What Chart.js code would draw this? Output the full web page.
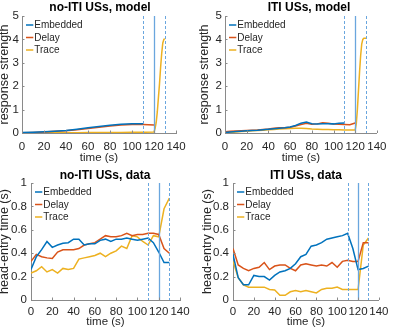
<!DOCTYPE html>
<html>
<head>
<meta charset="utf-8">
<script src="https://cdn.jsdelivr.net/npm/chart.js@4.4.1/dist/chart.umd.min.js"></script>
<style>
html,body{margin:0;padding:0;background:#fff;overflow:hidden;width:393px;height:333px;}
canvas{position:absolute;}
</style>
</head>
<body>
<canvas id="c1" width="196" height="166" style="left:0px;top:0px"></canvas>
<canvas id="c2" width="197" height="166" style="left:196px;top:0px"></canvas>
<canvas id="c3" width="196" height="167" style="left:0px;top:166px"></canvas>
<canvas id="c4" width="197" height="167" style="left:196px;top:166px"></canvas>
<script>
// ---------- data ----------
const seriesNames = ["Embedded", "Delay", "Trace"];
const xTicks = [0, 20, 40, 60, 80, 100, 120, 140];
const modelYTicks = [0, 1, 2, 3, 4, 5];
const dataYTicks = [0, 0.2, 0.4, 0.6, 0.8, 1];
const eventTimes = [110, 120, 130]; // dashed, solid, dashed

// Panel 1: no-ITI USs, model
const p1Time = [0,10,20,30,40,50,60,70,80,90,100,110,120,121,122,123,124,125,126,127,128,129,130];
const p1Embedded = [0.02,0.03,0.05,0.08,0.11,0.16,0.22,0.28,0.33,0.37,0.39,0.40];
const p1Delay = [0.01,0.02,0.04,0.07,0.10,0.14,0.19,0.25,0.30,0.34,0.36,0.36,0.34];
const p1Trace = [0,0,0.01,0.01,0.01,0.01,0.02,0.02,0.02,0.02,0.03,0.03,0.04,0.2,0.45,0.9,1.5,2.1,2.8,3.4,3.85,4.0,4.02];

// Panel 2: ITI USs, model
const p2Time = [0,5,10,15,20,25,30,35,40,45,50,55,60,65,70,75,80,85,90,95,100,105,110,115,120,121,122,123,124,125,126,127,128,129,130];
const p2Embedded = [0.02,0.04,0.06,0.08,0.10,0.11,0.12,0.14,0.16,0.18,0.20,0.22,0.26,0.32,0.42,0.47,0.40,0.38,0.40,0.40,0.39,0.42,0.43];
const p2Delay = [0.05,0.07,0.09,0.10,0.11,0.12,0.13,0.15,0.17,0.20,0.22,0.22,0.25,0.30,0.36,0.42,0.37,0.39,0.44,0.42,0.38,0.37,0.36,0.35,0.43];
const p2Trace = [0,0.02,0.04,0.06,0.08,0.10,0.11,0.12,0.14,0.15,0.17,0.18,0.19,0.20,0.20,0.19,0.17,0.16,0.15,0.15,0.14,0.14,0.13,0.13,0.13,0.4,1.0,1.8,2.6,3.3,3.8,4.0,4.05,4.05,4.05];

// Panel 3: no-ITI USs, data
const dataTime = [0,5,10,15,20,25,30,35,40,45,50,55,60,65,70,75,80,85,90,95,100,105,110,115,120,125,130];
const p3Embedded = [0.26,0.37,0.43,0.50,0.45,0.47,0.485,0.49,0.52,0.52,0.47,0.48,0.48,0.51,0.52,0.50,0.52,0.52,0.53,0.52,0.51,0.52,0.53,0.49,0.41,0.32,0.32];
const p3Delay = [0.33,0.39,0.37,0.36,0.355,0.41,0.43,0.43,0.43,0.44,0.47,0.48,0.49,0.52,0.55,0.54,0.54,0.55,0.57,0.55,0.56,0.56,0.57,0.57,0.56,0.44,0.40];
const p3Trace = [0.23,0.25,0.285,0.24,0.26,0.23,0.27,0.26,0.27,0.35,0.36,0.37,0.38,0.40,0.37,0.40,0.42,0.46,0.44,0.55,0.54,0.50,0.47,0.55,0.54,0.78,0.87];

// Panel 4: ITI USs, data
const p4Embedded = [0.39,0.19,0.13,0.13,0.21,0.20,0.20,0.17,0.21,0.24,0.25,0.27,0.31,0.37,0.39,0.46,0.47,0.49,0.52,0.53,0.54,0.55,0.57,0.44,0.26,0.27,0.29];
const p4Delay = [0.44,0.30,0.27,0.25,0.27,0.28,0.32,0.26,0.29,0.30,0.30,0.27,0.25,0.30,0.31,0.30,0.29,0.30,0.29,0.32,0.28,0.33,0.34,0.33,0.33,0.49,0.49];
const p4Trace = [0.33,0.19,0.13,0.11,0.11,0.11,0.11,0.09,0.085,0.04,0.04,0.07,0.08,0.07,0.08,0.07,0.06,0.09,0.10,0.10,0.11,0.09,0.09,0.09,0.09,0.47,0.53];

// ---------- styling ----------
const colors = ["#0072BD", "#D95319", "#EDB120"];
const eventColor = "#6aa6de";
const axisColor = "#8a8a8a";
const textColor = "#262626";
const FONT = "'Liberation Sans', Arial, Helvetica, sans-serif";

function pts(times, vals) {
  const out = [];
  for (let i = 0; i < vals.length; i++) {
    if (vals[i] !== null && vals[i] !== undefined) out.push({x: times[i], y: vals[i]});
  }
  return out;
}

const panelPlugin = {
  id: 'panelDecor',
  afterDatasetsDraw(chart, args, opts) {
    const ctx = chart.ctx;
    const xs = chart.scales.x, ys = chart.scales.y;
    const ca = chart.chartArea;
    ctx.save();
    // event lines
    eventTimes.forEach((t, i) => {
      const px = Math.round(xs.getPixelForValue(t)) + 0.5;
      ctx.beginPath();
      ctx.strokeStyle = eventColor;
      ctx.lineWidth = i === 1 ? 1.3 : 1;
      ctx.setLineDash(i === 1 ? [] : [3, 2]);
      ctx.moveTo(px, ca.top);
      ctx.lineTo(px, ca.bottom);
      ctx.stroke();
    });
    ctx.setLineDash([]);
    // inward ticks
    ctx.strokeStyle = axisColor;
    ctx.lineWidth = 1;
    xTicks.forEach(v => {
      const px = Math.round(xs.getPixelForValue(v)) + 0.5;
      ctx.beginPath();
      ctx.moveTo(px, ca.bottom);
      ctx.lineTo(px, ca.bottom - 2.5);
      ctx.stroke();
    });
    opts.yTicks.forEach(v => {
      const py = Math.round(ys.getPixelForValue(v)) + 0.5;
      ctx.beginPath();
      ctx.moveTo(ca.left, py);
      ctx.lineTo(ca.left + 2.5, py);
      ctx.stroke();
    });
    // legend
    ctx.font = "10px " + FONT;
    ctx.textBaseline = "middle";
    ctx.textAlign = "left";
    chart.data.datasets.forEach((ds, i) => {
      const y = ca.top + 9 + i * 12.5;
      ctx.beginPath();
      ctx.strokeStyle = ds.borderColor;
      ctx.lineWidth = 1.5;
      ctx.moveTo(ca.left + 4, y);
      ctx.lineTo(ca.left + 11.3, y);
      ctx.stroke();
      ctx.fillStyle = textColor;
      ctx.fillText(ds.label, ca.left + 12.3, y + 0.5);
    });
    // title
    ctx.font = "bold 12px " + FONT;
    ctx.fillStyle = "#000";
    ctx.textAlign = "center";
    ctx.fillText(opts.title, opts.titleX, opts.titleY);
    ctx.restore();
  }
};

function makeChart(id, cfg) {
  const datasets = cfg.series.map((s, i) => ({
    label: seriesNames[i],
    data: pts(s.t, s.v),
    borderColor: colors[i],
    backgroundColor: colors[i],
    borderWidth: 1.5,
    pointRadius: 0,
    tension: 0,
    fill: false
  }));
  return new Chart(document.getElementById(id), {
    type: 'line',
    data: { datasets },
    plugins: [panelPlugin],
    options: {
      responsive: false,
      animation: false,
      devicePixelRatio: 1,
      layout: { padding: cfg.padding },
      plugins: {
        legend: { display: false },
        tooltip: { enabled: false },
        title: { display: false },
        panelDecor: { title: cfg.title, titleX: cfg.titleX, titleY: cfg.titleY, yTicks: cfg.yTicks }
      },
      scales: {
        x: {
          type: 'linear', min: 0, max: 140,
          afterFit: s => { s.height = cfg.xHeight; },
          afterBuildTicks: s => { s.ticks = xTicks.map(v => ({ value: v })); },
          grid: { display: false, drawTicks: false },
          border: { display: true, color: axisColor, width: 1 },
          ticks: { color: textColor, font: { family: FONT, size: 11.5 }, padding: cfg.xTickPad, maxRotation: 0, autoSkip: false },
          title: { display: true, text: 'time (s)', color: textColor, font: { family: FONT, size: 11.5, lineHeight: 1.2 }, padding: { top: 0, bottom: cfg.xTitlePad } }
        },
        y: {
          type: 'linear', min: cfg.yTicks[0], max: cfg.yTicks[cfg.yTicks.length - 1],
          afterFit: s => { s.width = cfg.yWidth; },
          afterBuildTicks: s => { s.ticks = cfg.yTicks.map(v => ({ value: v })); },
          grid: { display: false, drawTicks: false },
          border: { display: true, color: axisColor, width: 1 },
          ticks: { color: textColor, font: { family: FONT, size: 11.5 }, padding: cfg.yTickPad, autoSkip: false,
                   callback: v => String(v) },
          title: { display: true, text: cfg.yLabel, color: textColor, font: { family: FONT, size: 12.5, lineHeight: 0.8 }, padding: { top: 0, bottom: 0 } }
        }
      }
    }
  });
}

makeChart('c1', {
  title: 'no-ITI USs, model', titleX: 100, titleY: 8,
  yLabel: 'response strength', yTicks: modelYTicks,
  padding: { left: 0, top: 16, right: 20, bottom: 0 }, yWidth: 22, xHeight: 33,
  xTickPad: 6.5, xTitlePad: 1.5, yTickPad: 3,
  series: [{ t: p1Time, v: p1Embedded }, { t: p1Time, v: p1Delay }, { t: p1Time, v: p1Trace }]
});
makeChart('c2', {
  title: 'ITI USs, model', titleX: 113, titleY: 8,
  yLabel: 'response strength', yTicks: modelYTicks,
  padding: { left: 4, top: 16, right: 13, bottom: 0 }, yWidth: 25, xHeight: 33,
  xTickPad: 6.5, xTitlePad: 1.5, yTickPad: 3,
  series: [{ t: p2Time, v: p2Embedded }, { t: p2Time, v: p2Delay }, { t: p2Time, v: p2Trace }]
});
makeChart('c3', {
  title: 'no-ITI USs, data', titleX: 105, titleY: 9.5,
  yLabel: 'head-entry time (s)', yTicks: dataYTicks,
  padding: { left: 0, top: 17, right: 16, bottom: 0 }, yWidth: 31, xHeight: 33,
  xTickPad: 4.5, xTitlePad: 4, yTickPad: 4,
  series: [{ t: dataTime, v: p3Embedded }, { t: dataTime, v: p3Delay }, { t: dataTime, v: p3Trace }]
});
makeChart('c4', {
  title: 'ITI USs, data', titleX: 110, titleY: 9.5,
  yLabel: 'head-entry time (s)', yTicks: dataYTicks,
  padding: { left: 6.5, top: 17, right: 13, bottom: 0 }, yWidth: 30.5, xHeight: 33,
  xTickPad: 4.5, xTitlePad: 4, yTickPad: 4,
  series: [{ t: dataTime, v: p4Embedded }, { t: dataTime, v: p4Delay }, { t: dataTime, v: p4Trace }]
});
</script>
</body>
</html>
